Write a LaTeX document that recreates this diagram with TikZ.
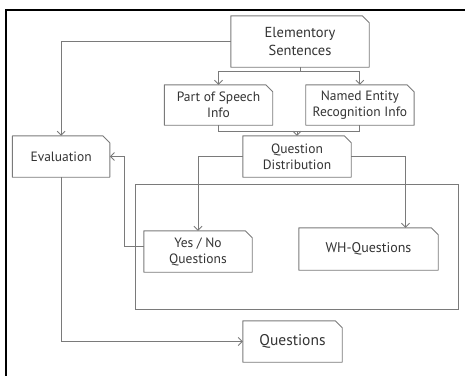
\documentclass[tikz,border=0pt]{standalone}
\usepackage{fontspec}
\setmainfont{PT Sans}
\usetikzlibrary{arrows.meta, positioning}
\definecolor{lncol}{HTML}{7A7A7A}
\definecolor{txtcol}{HTML}{333333}
\def\H{41pt}
\def\W{108pt}
\def\cut{7pt}
\tikzstyle{every node} = [font=\fontsize{13.5}{16}\selectfont, text=txtcol]
\tikzstyle{line}  = [draw=lncol, line width=0.9pt]
\tikzstyle{arrow} = [line, -{Straight Barb[length=4pt,width=8pt]}]
\tikzstyle{card}  = [rectangle, minimum width=\W, minimum height=\H, inner sep=0pt, align=center,
                     append after command={\pgfextra{\let\cardnode\tikzlastnode
                       \draw [line, line join=round] (\cardnode.north west) -- ([xshift=-\cut]\cardnode.north east)
                         -- ([yshift=-\cut]\cardnode.north east) -- (\cardnode.south east)
                         -- (\cardnode.south west) -- cycle;}}]

\begin{document}
\begin{tikzpicture}[x=1pt, y=-1pt]
\useasboundingbox (0,0) rectangle (465,375);
% Frame
    \draw [black, line width=2.6pt] (6,380) -- (6,10) -- (470,10);
% Objects
    % Top
    \node (elem) [card, minimum width=138pt, minimum height=51pt,
                  font=\fontsize{14.5}{17.5}\selectfont] at (300,41.5) {Elementory\\Sentences};
    \node (pos)  [card, minimum height=40pt] at (218.5,105) {Part of Speech\\Info};
    \node (ner)  [card, minimum height=40pt, right=33pt of pos] {Named Entity\\Recognition Info};
    % Middle
    \node (qd)   [card] at (297,156.5) {Question\\Distribution};
    \node (eval) [card, minimum width=97pt, left=133pt of qd] {Evaluation};
    % Question types
    \node (grp)  [rectangle, line, minimum width=323pt,
                  minimum height=125pt] at (296.5,246.5) {};
    \node (yn)   [card] at (198,251.5) {Yes / No\\Questions};
    \node (wh)   [card, minimum width=139pt, minimum height=42pt,
                  font=\fontsize{14}{17}\selectfont] at (368.5,249) {WH-Questions};
    % Bottom
    \node (q)    [card, minimum width=99pt, font=\fontsize{15.5}{18}\selectfont] at (292.5,341.5) {Questions};

% Arrows
    % Sentences to info
    \draw [arrow] (elem.south) -- ++(0,4) -| (pos.north);
    \draw [arrow] (elem.south) -- ++(0,4) -| (ner.north);
    \draw [arrow] (elem.west)  -| (eval.north);
    % Info to distribution
    \coordinate (mrg) at ([yshift=-6pt]pos.south);
    \draw [line]  (pos.south) -- (mrg) -| (ner.south);
    \draw [arrow] (qd.north |- mrg) -- (qd.north);
    % Distribution
    \draw [arrow] (qd.west) -| (yn.north);
    \draw [arrow] (qd.east) -| ([xshift=37pt]wh.north);
    % Evaluation
    \draw [arrow] ([yshift=5pt]yn.west) -- ++(-19,0) |- (eval.east);
    \draw [arrow] (eval.south) |- (q.west);
\end{tikzpicture}
\end{document}
